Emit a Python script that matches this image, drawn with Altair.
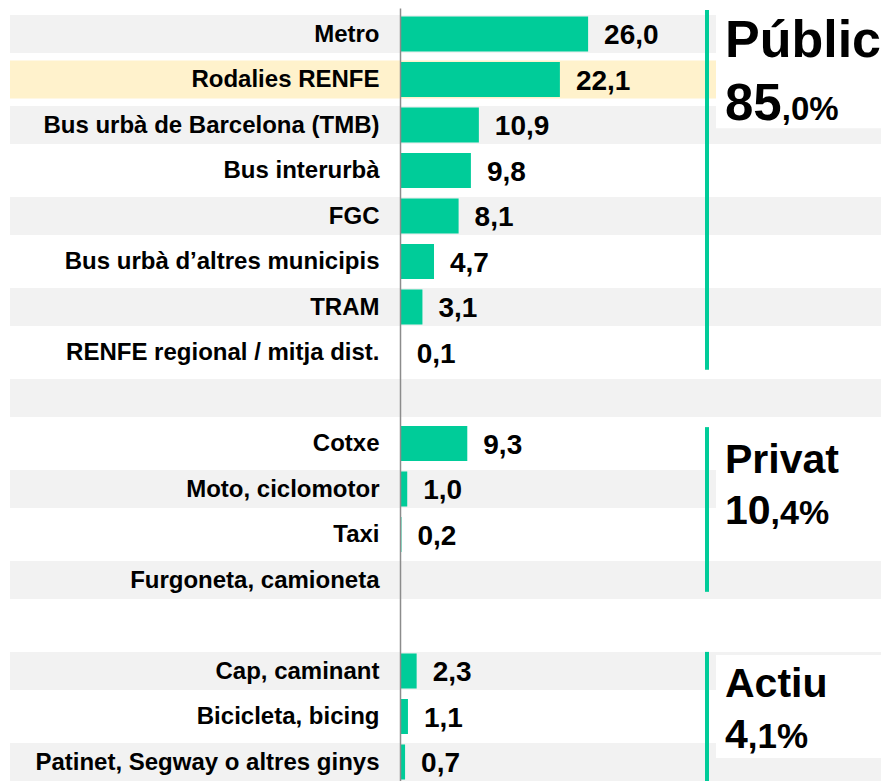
import json
import altair as alt
import pandas as pd

# ---------------- data ----------------
categories = [
    "Metro", "Rodalies RENFE", "Bus urbà de Barcelona (TMB)", "Bus interurbà", "FGC",
    "Bus urbà d’altres municipis", "TRAM", "RENFE regional / mitja dist.", "",
    "Cotxe", "Moto, ciclomotor", "Taxi", "Furgoneta, camioneta", "",
    "Cap, caminant", "Bicicleta, bicing", "Patinet, Segway o altres ginys",
]
values = [26.0, 22.1, 10.9, 9.8, 8.1, 4.7, 3.1, 0.1, None,
          9.3, 1.0, 0.2, None, None,
          2.3, 1.1, 0.7]
highlight = "Rodalies RENFE"

group_names = ["Públic", "Privat", "Actiu"]
group_whole = ["85", "10", "4"]
group_decimal = [",0%", ",4%", ",1%"]
group_first = [0, 9, 14]
group_last = [7, 12, 16]

# ---------------- layout ----------------
FONT = "Liberation Sans"
GREEN = "#00CC99"
W, H = 481, 773
PX = 7.235                      # pixels per value unit
X_MAX = W / PX
ROW = 45.5
Y_MIN = -26 / ROW
Y_MAX = Y_MIN + H / ROW
STRIPE_X0 = -390 / PX           # stripes reach into the label area
STRIPE_X1 = X_MAX + 5
LINE_X = 307 / PX
TEXT_X = 325 / PX
BOX_X = 316 / PX
title_size = [52, 41, 41]
num_size = [51, 41, 41]
dec_size = [33, 34, 35]
title_off = [0.50, 0.65, 0.57]
num_off = [1.89, 1.77, 1.69]
line_top = [-0.53, -0.36, -0.42]
line_bot = [0.38, 0.26, 0.6]
box_top = [-0.62, -0.36, -0.35]
box_bot = [2.07, 1.46, 1.91]

rows = pd.DataFrame({
    "row": list(range(len(categories))),
    "name": categories,
    "value": values,
})
rows["lo"] = rows["row"] - 0.385
rows["hi"] = rows["row"] + 0.385
rows["s_lo"] = rows["row"] - 0.418
rows["s_hi"] = rows["row"] + 0.418
rows["x0"] = 0.0
rows["sx0"] = STRIPE_X0
rows["sx1"] = STRIPE_X1
rows["hx1"] = BOX_X
rows["label"] = [("" if v is None else f"{v:.1f}".replace(".", ",")) for v in values]

stripes = rows[(rows["row"] % 2 == 0) & (rows["name"] != highlight)]
hl = rows[rows["name"] == highlight]
bars = rows[rows["value"].notna()]

groups = pd.DataFrame({
    "name": group_names,
    "whole": group_whole,
    "dec": group_decimal,
    "first": group_first,
    "last": group_last,
})
groups["lx"] = LINE_X
groups["ly0"] = [f + o for f, o in zip(group_first, line_top)]
groups["ly1"] = [l + o for l, o in zip(group_last, line_bot)]
groups["tx"] = TEXT_X
groups["ty"] = [f + o for f, o in zip(group_first, title_off)]
groups["ny"] = [f + o for f, o in zip(group_first, num_off)]
groups["dx"] = [TEXT_X + len(w) * 0.556 * s / PX for w, s in zip(group_whole, num_size)]
groups["bx0"] = BOX_X
groups["bx1"] = STRIPE_X1
groups["by0"] = [f + o for f, o in zip(group_first, box_top)]
groups["by1"] = [f + o for f, o in zip(group_first, box_bot)]
groups["tsize"] = title_size
groups["nsize"] = num_size
groups["dsize"] = dec_size

# ---------------- scales / axes ----------------
label_rows = [i for i, c in enumerate(categories) if c]
xscale = alt.Scale(domain=[0, X_MAX], nice=False, zero=False)
yscale = alt.Scale(domain=[Y_MIN, Y_MAX], nice=False, zero=False, reverse=True)
yaxis = alt.Axis(
    values=label_rows,
    labelExpr=f"{json.dumps(categories, ensure_ascii=False)}[datum.value]",
    ticks=False, grid=False, domain=True, domainColor="#8c8c8c", domainWidth=1.5,
    labelFont=FONT, labelFontWeight="bold", labelFontSize=24, labelColor="#000000",
    labelPadding=21, labelLimit=500, labelOverlap=False, title=None, zindex=1,
)


def X(f):
    return alt.X(f, type="quantitative", scale=xscale, axis=None)


def Y(f):
    return alt.Y(f, type="quantitative", scale=yscale, axis=yaxis)


stripe_layer = alt.Chart(stripes).mark_rect(color="#F2F2F2", clip=False).encode(
    x=X("sx0"), x2="sx1", y=Y("s_lo"), y2="s_hi")
hl_layer = alt.Chart(hl).mark_rect(color="#FFF2CC", clip=False).encode(
    x=X("sx0"), x2="hx1", y=Y("s_lo"), y2="s_hi")
box_layer = alt.Chart(groups).mark_rect(color="#FFFFFF", clip=False).encode(
    x=X("bx0"), x2="bx1", y=Y("by0"), y2="by1")
bar_layer = alt.Chart(bars).mark_rect(color=GREEN).encode(
    x=X("x0"), x2="value", y=Y("lo"), y2="hi")
val_layer = alt.Chart(bars).mark_text(
    align="left", baseline="middle", dx=16, dy=2, font=FONT, fontWeight="bold",
    fontSize=28, color="#000000").encode(x=X("value"), y=Y("row"), text="label:N")
line_layer = alt.Chart(groups).mark_rule(color=GREEN, strokeWidth=4, clip=False).encode(
    x=X("lx"), y=Y("ly0"), y2="ly1")
title_layer = alt.Chart(groups).mark_text(
    align="left", baseline="alphabetic", font=FONT, fontWeight="bold", color="#000000").encode(
    x=X("tx"), y=Y("ty"), text="name:N",
    size=alt.Size("tsize:Q", scale=None, legend=None))
num_layer = alt.Chart(groups).mark_text(
    align="left", baseline="alphabetic", font=FONT, fontWeight="bold", color="#000000").encode(
    x=X("tx"), y=Y("ny"), text="whole:N",
    size=alt.Size("nsize:Q", scale=None, legend=None))
dec_layer = alt.Chart(groups).mark_text(
    align="left", baseline="alphabetic", font=FONT, fontWeight="bold", color="#000000").encode(
    x=X("dx"), y=Y("ny"), text="dec:N",
    size=alt.Size("dsize:Q", scale=None, legend=None))

chart = alt.layer(
    stripe_layer, hl_layer, box_layer, bar_layer, val_layer,
    line_layer, title_layer, num_layer, dec_layer,
).properties(
    width=W, height=H,
    padding={"left": 392, "top": 0, "right": 0, "bottom": 0},
    autosize=alt.AutoSizeParams(type="none"),
    background="#FFFFFF",
).configure_view(stroke=None)

chart.save("out.html", embed_options={"renderer": "svg", "actions": False})
